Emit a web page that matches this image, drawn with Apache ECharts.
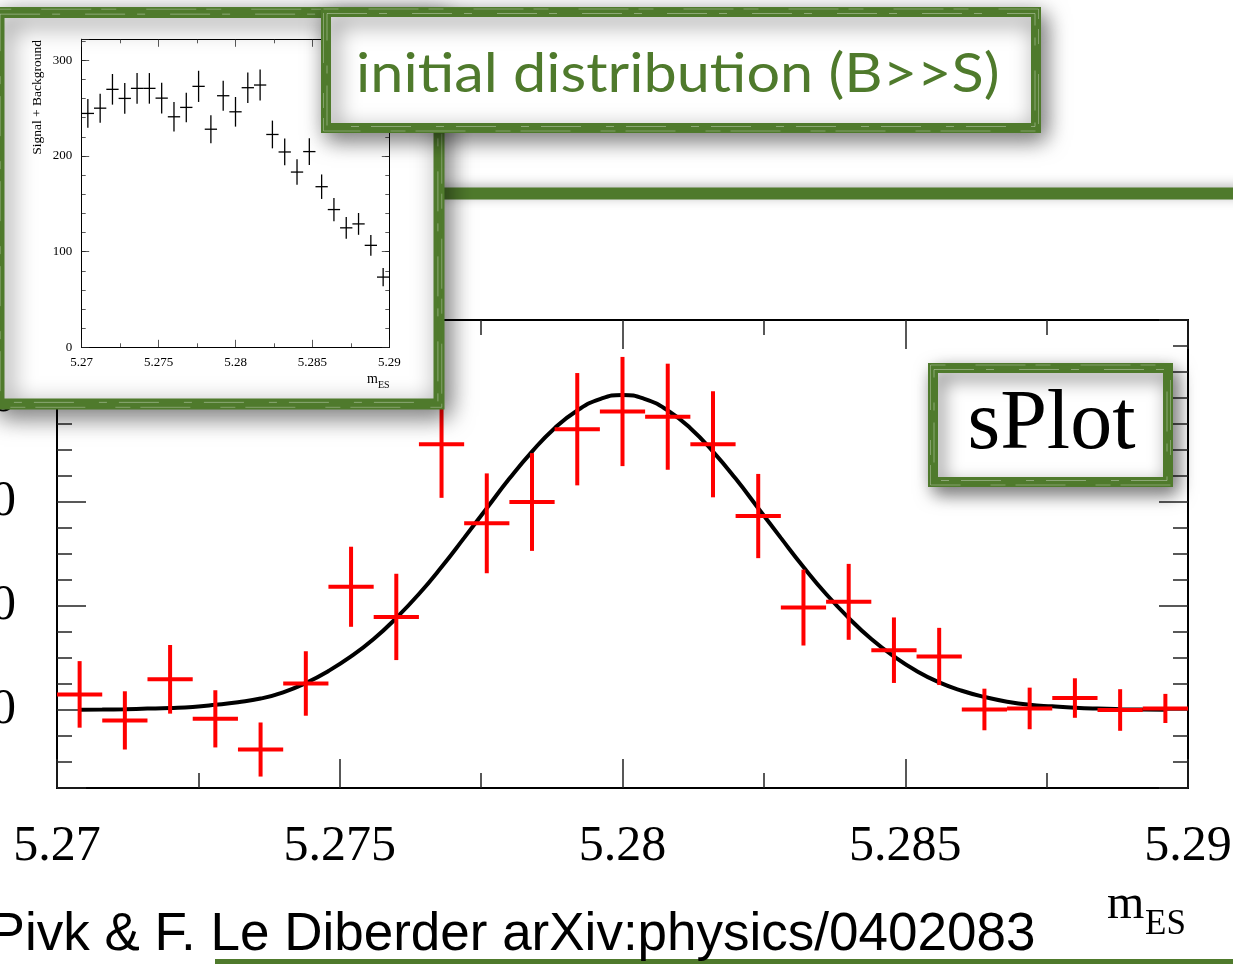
<!DOCTYPE html>
<html><head><meta charset="utf-8">
<script src="https://cdn.jsdelivr.net/npm/echarts@6/dist/echarts.min.js"></script>
<style>html,body{margin:0;padding:0;background:#fff;overflow:hidden}#c{width:1233px;height:964px;}</style>
</head><body><div id="c"></div>
<script>
// ---------------- data ----------------
const binHalfWidth = 0.0004;
const binCenters = [5.2704, 5.2712, 5.2720, 5.2728, 5.2736, 5.2744, 5.2752, 5.2760, 5.2768, 5.2776, 5.2784, 5.2792, 5.2800,
                    5.2808, 5.2816, 5.2824, 5.2832, 5.2840, 5.2848, 5.2856, 5.2864, 5.2872, 5.2880, 5.2888, 5.2896];
const splotValues = [3.0, -2.0, 5.9, -1.7, -7.6, 5.1, 23.7, 17.9, 51.1, 35.9, 40.0, 54.0, 57.4,
                     56.4, 51.1, 37.3, 19.7, 20.8, 11.5, 10.3, 0.1, 0.3, 2.3, 0.0, 0.3];
const splotErrors = [6.4, 5.6, 6.6, 5.5, 5.2, 6.2, 7.7, 8.3, 10.3, 9.6, 9.4, 10.8, 10.5,
                     10.2, 10.2, 8.1, 7.3, 7.3, 6.3, 5.5, 4.0, 4.0, 3.8, 4.0, 2.8];
const initialValues = [244.5, 250.0, 269.7, 260.2, 270.7, 270.7, 260.5, 241.0, 250.8, 272.8, 228.0, 263.0, 246.2,
                       271.4, 274.2, 222.5, 204.2, 183.2, 204.6, 167.9, 144.0, 124.9, 129.0, 106.6, 73.4];
const initialErrors = [15.0, 15.2, 16.0, 16.0, 16.0, 16.0, 16.0, 15.5, 15.4, 16.3, 14.7, 15.7, 15.5,
                       16.0, 16.3, 14.5, 14.0, 13.3, 14.0, 12.8, 12.2, 11.4, 11.4, 10.9, 9.6];
const fitX = [5.2704, 5.2708, 5.2712, 5.2716, 5.2720, 5.2724, 5.2728, 5.2732, 5.2736, 5.2740, 5.2744, 5.2748, 5.2752,
              5.2756, 5.2760, 5.2764, 5.2768, 5.2772, 5.2776, 5.2780, 5.2784, 5.2788, 5.2792, 5.2796, 5.2800,
              5.2804, 5.2808, 5.2812, 5.2816, 5.2820, 5.2824, 5.2828, 5.2832, 5.2836, 5.2840, 5.2844, 5.2848,
              5.2852, 5.2856, 5.2860, 5.2864, 5.2868, 5.2872, 5.2876, 5.2880, 5.2884, 5.2888, 5.2892, 5.2896];
const fitY = [0.05, 0.09, 0.16, 0.27, 0.4, 0.6, 1.0, 1.5, 2.2, 3.4, 5.2, 7.5, 10.3,
              13.65, 17.7, 22.3, 27.5, 33.1, 38.8, 44.5, 49.7, 54.2, 57.6, 59.8, 60.6,
              59.8, 57.6, 54.2, 49.7, 44.5, 38.8, 33.1, 27.5, 22.3, 17.7, 13.65, 10.3,
              7.5, 5.3, 3.7, 2.5, 1.6, 1.0, 0.7, 0.44, 0.27, 0.16, 0.09, 0.05];
const xTitleMain = ['m', 'ES'];
const yTitleInset = 'Signal + Background';
const titleTop = 'initial distribution (B>>S)';
const titleBox = 'sPlot';
const footer = 'M. Pivk & F. Le Diberder arXiv:physics/0402083';

// ---------------- styling ----------------
const GREEN = '#4f7a2c';
const SERIF = '"Liberation Serif","Times New Roman",serif';
const fmtX = v => String(+v.toFixed(4));

const chart = echarts.init(document.getElementById('c'), null, {renderer: 'canvas'});

function crossRenderer(color, lw) {
  return function (params, api) {
    const x = api.value(0), y = api.value(1), e = api.value(2);
    const pL = api.coord([x - binHalfWidth, y]), pR = api.coord([x + binHalfWidth, y]);
    const pT = api.coord([x, y + e]), pB = api.coord([x, y - e]);
    return {type: 'group', children: [
      {type: 'line', shape: {x1: pL[0], y1: pL[1], x2: pR[0], y2: pR[1]}, style: {stroke: color, lineWidth: lw}},
      {type: 'line', shape: {x1: pT[0], y1: pT[1], x2: pB[0], y2: pB[1]}, style: {stroke: color, lineWidth: lw}}
    ]};
  };
}

function xAx(grid, pos, z, major, minor, lw, label) {
  return {
    gridIndex: grid, type: 'value', position: pos, min: 5.27, max: 5.29, interval: 0.005, zlevel: z,
    axisLine: {show: true, onZero: false, lineStyle: {color: '#000', width: lw}},
    axisTick: {show: true, inside: true, length: major, lineStyle: {color: '#222', width: lw * 0.75}},
    minorTick: {show: true, splitNumber: 2, length: minor, lineStyle: {color: '#222', width: lw * 0.75}},
    axisLabel: label ? Object.assign({formatter: fmtX, color: '#000', fontFamily: SERIF, hideOverlap: false}, label) : {show: false},
    splitLine: {show: false}, minorSplitLine: {show: false}
  };
}
function yAx(grid, pos, z, opts, len, lw, label) {
  return Object.assign({
    gridIndex: grid, type: 'value', position: pos, zlevel: z,
    axisLine: {show: true, onZero: false, lineStyle: {color: '#000', width: lw}},
    axisTick: {show: true, inside: true, length: len, lineStyle: {color: '#222', width: lw * 0.75}},
    axisLabel: label ? Object.assign({color: '#000', fontFamily: SERIF}, label) : {show: false},
    splitLine: {show: false}
  }, opts);
}

const mainMajorY = {min: -15, max: 75, minInterval: 20, maxInterval: 20};
const mainMinorY = {min: -15, max: 75, interval: 5};
const insetMajorY = {min: 0, max: 322, interval: 100};
const insetMinorY = {min: 0, max: 322, interval: 20};
const mainYLabel = {fontSize: 50, margin: 41, formatter: v => (v % 20 === 0 ? String(Math.abs(v) < 1e-9 ? 0 : v) : '')};
const insetYLabel = {fontSize: 13, margin: 9.5, formatter: v => (v % 100 === 0 ? String(v) : '')};

function roughBox(x, y, w, h, lw, z, shadow) {
  return [
    {type: 'rect', zlevel: z, z: 1, shape: {x: x, y: y, width: w, height: h},
     style: {fill: '#fff', stroke: GREEN, lineWidth: lw, shadowBlur: shadow, shadowColor: 'rgba(0,0,0,0.5)', shadowOffsetX: 5, shadowOffsetY: 7}},
    {type: 'rect', zlevel: z, z: 2, shape: {x: x + lw * 0.1, y: y + lw * 0.15, width: w - lw * 0.2, height: h - lw * 0.3},
     style: {fill: null, stroke: 'rgba(255,255,255,0.35)', lineWidth: 1, lineDash: [40, 12, 8, 25]}},
    {type: 'rect', zlevel: z, z: 2, shape: {x: x - lw * 0.25, y: y - lw * 0.3, width: w + lw * 0.5, height: h + lw * 0.6},
     style: {fill: null, stroke: 'rgba(255,255,255,0.3)', lineWidth: 1, lineDash: [15, 30, 50, 10]}}
  ];
}

const graphics = [].concat(
  // big background frame (top and bottom strokes visible)
  [{type: 'line', zlevel: 0, z: 1, shape: {x1: -30, y1: 193.5, x2: 1270, y2: 193.5},
    style: {stroke: GREEN, lineWidth: 12, shadowBlur: 12, shadowColor: 'rgba(0,0,0,0.3)', shadowOffsetY: -2}},
   {type: 'line', zlevel: 0, z: 1, shape: {x1: 215, y1: 965, x2: 1270, y2: 965},
    style: {stroke: GREEN, lineWidth: 12}},
   {type: 'text', zlevel: 0, z: 1, x: -84, y: 935.6,
    style: {text: footer, font: '53px "Liberation Sans", Arial, sans-serif', fill: '#000', align: 'left', verticalAlign: 'middle', textAlign: 'left', textVerticalAlign: 'middle'}},
   {type: 'text', zlevel: 1, z: 5, x: 1107, y: 905.4,
    style: {text: xTitleMain[0], font: '48px ' + SERIF, fill: '#000', align: 'left', verticalAlign: 'middle', textAlign: 'left', textVerticalAlign: 'middle'}},
   {type: 'text', zlevel: 1, z: 5, x: 1145, y: 925.3,
    style: {text: xTitleMain[1], font: '35px ' + SERIF, fill: '#000', align: 'left', verticalAlign: 'middle', textAlign: 'left', textVerticalAlign: 'middle'}}
  ],
  // sPlot box
  roughBox(933, 368, 235, 114, 10, 2, 18),
  [{type: 'text', zlevel: 2, z: 5, x: 1051.5, y: 426.4,
    style: {text: titleBox, font: '84px ' + SERIF, fill: '#000', align: 'center', verticalAlign: 'middle', textAlign: 'center', textVerticalAlign: 'middle'}}],
  // inset box
  roughBox(-1, 12.5, 440, 391.5, 11, 3, 24),
  [{type: 'text', zlevel: 4, z: 5, x: 367, y: 379,
    style: {text: xTitleMain[0], font: '14px ' + SERIF, fill: '#000', align: 'left', verticalAlign: 'middle', textAlign: 'left', textVerticalAlign: 'middle'}},
   {type: 'text', zlevel: 4, z: 5, x: 378, y: 385,
    style: {text: xTitleMain[1], font: '10px ' + SERIF, fill: '#000', align: 'left', verticalAlign: 'middle', textAlign: 'left', textVerticalAlign: 'middle'}},
   {type: 'text', zlevel: 4, z: 5, x: 37, y: 40, rotation: Math.PI / 2,
    style: {text: yTitleInset, font: '13.5px ' + SERIF, fill: '#000', align: 'right', verticalAlign: 'middle', textAlign: 'right', textVerticalAlign: 'middle'}}
  ],
  // top title box
  roughBox(326, 12, 710, 116, 10, 5, 22),
  [{type: 'text', zlevel: 5, z: 5, x: 356, y: 74.6, scaleX: 1.1,
    style: {text: titleTop, font: '54px Lato, "Open Sans", sans-serif', fill: GREEN, align: 'left', verticalAlign: 'middle', textAlign: 'left', textVerticalAlign: 'middle'}}]
);

const option = {
  animation: false,
  backgroundColor: '#fff',
  grid: [
    {left: 57, top: 320, width: 1131, height: 468, zlevel: 1, containLabel: false, outerBoundsMode: 'none'},
    {left: 81.7, top: 39.3, width: 307.6, height: 308, zlevel: 4, containLabel: false, outerBoundsMode: 'none'}
  ],
  xAxis: [
    xAx(0, 'bottom', 1, 29, 15, 2, {fontSize: 50, margin: 34}),
    xAx(0, 'top', 1, 29, 15, 2, null),
    xAx(1, 'bottom', 4, 7.5, 4, 1, {fontSize: 13, margin: 9}),
    xAx(1, 'top', 4, 7.5, 4, 1, null)
  ],
  yAxis: [
    yAx(0, 'left', 1, mainMajorY, 29, 2, mainYLabel),
    yAx(0, 'left', 1, mainMinorY, 15, 2, null),
    yAx(0, 'right', 1, mainMajorY, 29, 2, null),
    yAx(0, 'right', 1, mainMinorY, 15, 2, null),
    yAx(1, 'left', 4, insetMajorY, 7.5, 1, insetYLabel),
    yAx(1, 'left', 4, insetMinorY, 4, 1, null),
    yAx(1, 'right', 4, insetMajorY, 7.5, 1, null),
    yAx(1, 'right', 4, insetMinorY, 4, 1, null)
  ],
  series: [
    {type: 'line', xAxisIndex: 0, yAxisIndex: 0, zlevel: 1, z: 3, smooth: 0.5, showSymbol: false, symbol: 'none',
     lineStyle: {color: '#000', width: 4}, data: fitX.map((x, i) => [x, fitY[i]])},
    {type: 'custom', xAxisIndex: 0, yAxisIndex: 0, zlevel: 1, z: 4, renderItem: crossRenderer('#ff0000', 4),
     data: binCenters.map((x, i) => [x, splotValues[i], splotErrors[i]])},
    {type: 'custom', xAxisIndex: 2, yAxisIndex: 4, zlevel: 4, z: 4, renderItem: crossRenderer('#000', 1.3),
     data: binCenters.map((x, i) => [x, initialValues[i], initialErrors[i]])}
  ],
  graphic: {elements: graphics}
};
chart.setOption(option);
</script>
</body></html>
